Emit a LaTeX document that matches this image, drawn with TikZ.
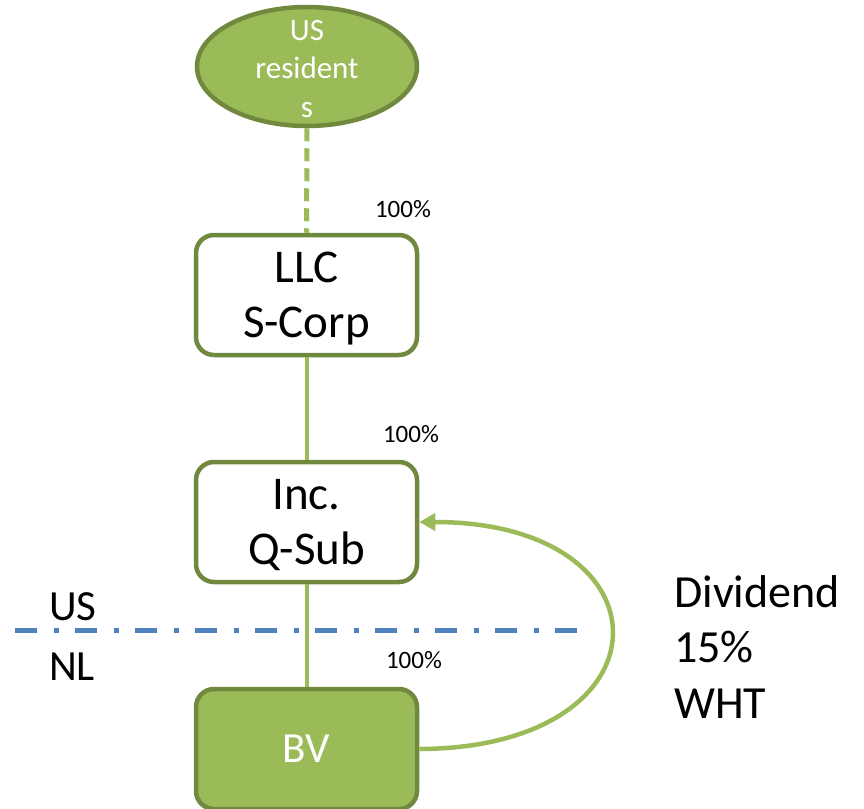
\documentclass[tikz,border=0pt]{standalone}
\usepackage{fontspec}
\setmainfont{Carlito}
\usetikzlibrary{shapes.geometric,arrows.meta}
\definecolor{leaf}{HTML}{9BBB59}
\definecolor{leafdark}{HTML}{71893F}
\definecolor{borderblue}{HTML}{4F81BD}
\begin{document}
\begin{tikzpicture}[x=1pt,y=-1pt,
  entity/.style={draw=leafdark, line width=4.5pt, rounded corners=18pt,
    minimum width=221pt, minimum height=120pt, inner sep=0pt,
    align=center, text depth=0pt, font=\fontsize{47}{55}\selectfont},
  dutch/.style={entity, fill=leaf, text=white, font=\fontsize{43}{52}\selectfont},
  owner/.style={draw=leaf, line width=4pt},
  pct/.style={anchor=base, inner sep=0pt, font=\fontsize{25}{30}\selectfont},
  country/.style={anchor=base west, inner sep=0pt, font=\fontsize{43}{52}\selectfont},
  flow/.style={draw=leaf, line width=4.5pt, -{Triangle[length=16pt,width=17pt]}},
  frontier/.style={draw=borderblue, line width=5pt,
    dash pattern=on 22pt off 16.5pt on 5.5pt off 16pt}]
\useasboundingbox (0,0) rectangle (864,808);

% shareholders
\node[ellipse, draw=leafdark, fill=leaf, line width=4.5pt,
      minimum width=220pt, minimum height=119pt, inner sep=0pt,
      label={[name=restxt, text=white, align=center, text depth=0pt,
              yshift=-2.3pt, font=\fontsize{31}{38.5}\selectfont]center:{US\\resident\\s}}]
      (res) at (307,66.5) {};

% entity chain
\node[entity] (llc) at (306.5,295) {LLC\\S-Corp};
\node[entity] (inc) at (306.5,522) {Inc.\\Q-Sub};
\node[dutch]  (bv)  at (306.5,749) {BV};

% ownership links
\draw[owner, dash pattern=on 13pt off 7pt, line width=5pt] (res.south) -- (llc.north);
\draw[owner] (llc.south) -- (inc.north);
\draw[owner] (inc.south) -- (bv.north);

\node[pct] (p1) at (403,217) {100\%};
\node[pct] (p2) at (411,442) {100\%};
\node[pct] (p3) at (414,668) {100\%};

% US / NL border
\coordinate (fl) at (15,630);
\coordinate (fr) at (577,630);
\draw[frontier] (fl) -- (fr);
\node[country] (us) at (49,620) {US};
\node[country] (nl) at (49,680) {NL};

% dividend flow
\draw[flow] (bv.east) .. controls (675,748) and (675,522) .. (inc.east);
\node[anchor=base west, inner sep=0pt, align=left,
      font=\fontsize{46}{55.5}\selectfont] (div) at (674,718) {Dividend\\15\%\\WHT};
\end{tikzpicture}
\end{document}
